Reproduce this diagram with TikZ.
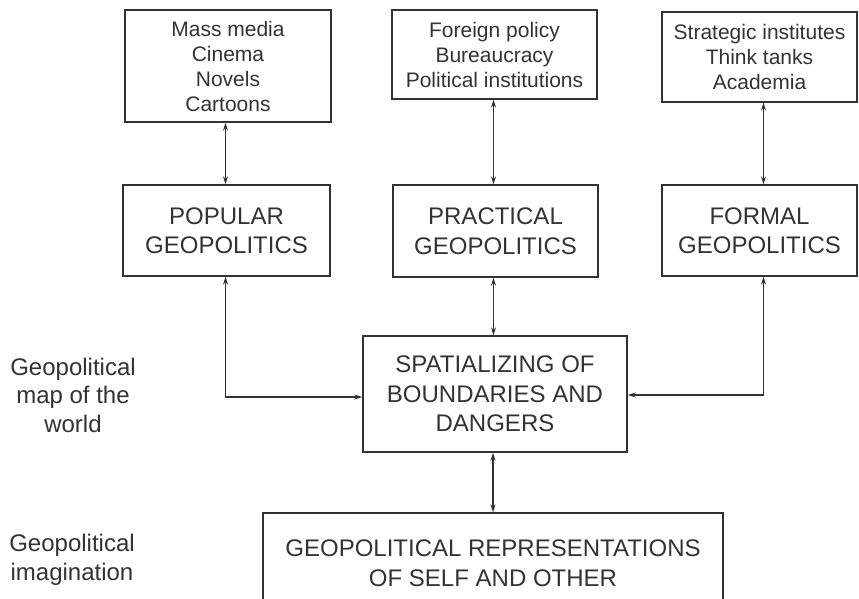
\documentclass[tikz,border=0pt]{standalone}
\usepackage{fontspec}
\setmainfont{Liberation Sans}
\usetikzlibrary{arrows.meta,calc}
\definecolor{ink}{HTML}{333333}
\begin{document}
\begin{tikzpicture}[x=1pt,y=-1pt,
  box/.style={draw=ink,line width=1.4pt,inner sep=0pt,align=center,text=ink},
  small/.style={font=\fontsize{21}{25}\selectfont},
  big/.style={font=\fontsize{24}{29.5}\selectfont},
  lbl/.style={inner sep=0pt,align=center,text=ink,font=\fontsize{24}{28.5}\selectfont},
  conn/.style={draw=ink,line width=1.2pt,{Stealth[length=8pt,width=5pt]}-{Stealth[length=8pt,width=5pt]}}]
\useasboundingbox (0,0) rectangle (859,599);
\clip (0,0) rectangle (859,599);
\fill[white] (0,0) rectangle (859,599);
% top row
\node[box,small,minimum width=206,minimum height=112] (A) at (228,66) {Mass media\\Cinema\\Novels\\Cartoons};
\node[box,small,minimum width=205,minimum height=89] (B) at (494.5,54.5) {Foreign policy\\Bureaucracy\\Political institutions};
\node[box,small,minimum width=195,minimum height=90] (C) at (759.5,57) {Strategic institutes\\Think tanks\\Academia};
% middle row
\node[box,big,minimum width=207,minimum height=91] (D) at (226.5,230.5) {POPULAR\\GEOPOLITICS};
\node[box,big,minimum width=205,minimum height=92] (E) at (495.5,231) {PRACTICAL\\GEOPOLITICS};
\node[box,big,minimum width=195,minimum height=91] (F) at (759.5,230.5) {FORMAL\\GEOPOLITICS};
% central
\node[box,big,minimum width=264,minimum height=116] (G) at (495,394) {SPATIALIZING OF\\BOUNDARIES AND\\DANGERS};
% bottom (cut off)
\node[box,big,minimum width=460,minimum height=100] (H) at (493,563) {GEOPOLITICAL REPRESENTATIONS\\OF SELF AND OTHER};
% left labels
\node[lbl] (L1) at (73,395) {Geopolitical\\map of the\\world};
\node[lbl] (L2) at (72,560) {Geopolitical\\imagination};
% connectors
\draw[conn] ([xshift=-1pt]D.north) -- ([xshift=-1pt]D.north |- A.south);
\draw[conn] ([xshift=-2pt]E.north) -- ([xshift=-2pt]E.north |- B.south);
\draw[conn] ([xshift=4pt]F.north) -- ([xshift=4pt]F.north |- C.south);
\draw[conn] ([xshift=-2pt]E.south) -- ([xshift=-2pt]E.south |- G.north);
\draw[conn] ([xshift=-1pt]D.south) |- ([yshift=-3pt]G.west);
\draw[conn] ([xshift=4pt]F.south) |- ([yshift=-1pt]G.east);
\draw[conn] ([xshift=-2pt]G.south) -- ([xshift=-2pt]G.south |- H.north);
\end{tikzpicture}
\end{document}
